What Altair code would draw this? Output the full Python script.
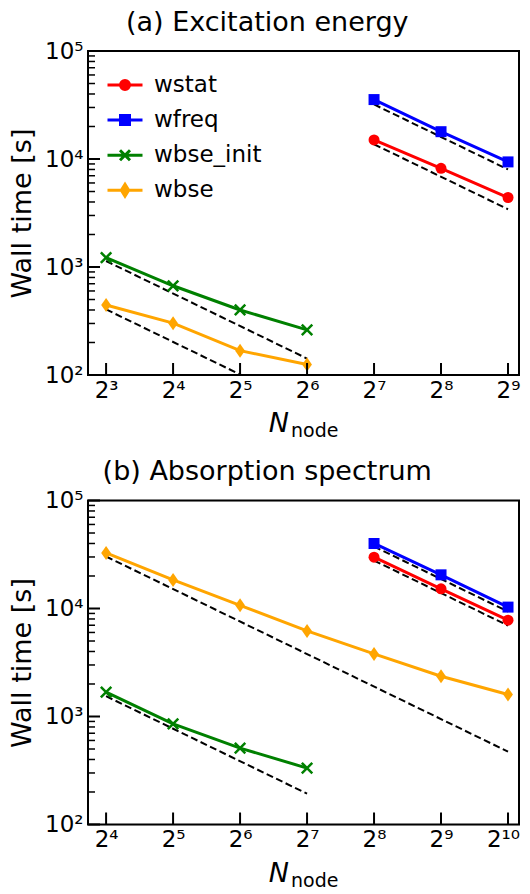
import altair as alt
import pandas as pd

FONT = "DejaVu Sans"

# ---------------- data ----------------
series = ["wstat", "wfreq", "wbse_init", "wbse"]
colors = ["#ff0000", "#0000ff", "#008000", "#ffa500"]

# panel (a) Excitation energy
a_n_w = [128, 256, 512]
a_wstat = [15000, 8200, 4400]
a_wfreq = [35500, 17900, 9400]
a_n_b = [8, 16, 32, 64]
a_wbse_init = [1220, 670, 400, 262]
a_wbse = [445, 302, 168, 125]
# ideal-scaling (dashed) end points
a_ideal_n_w = [128, 512]
a_ideal_wstat = [13700, 3425]
a_ideal_wfreq = [32000, 8000]
a_ideal_n_b = [8, 64]
a_ideal_wbse_init = [1137, 142]
a_ideal_wbse = [405, 50.6]

# panel (b) Absorption spectrum
b_n_w = [256, 512, 1024]
b_wstat = [29900, 15200, 7800]
b_wfreq = [40000, 20500, 10300]
b_n_init = [16, 32, 64, 128]
b_wbse_init = [1680, 855, 510, 333]
b_n_bse = [16, 32, 64, 128, 256, 512, 1024]
b_wbse = [32700, 18400, 10700, 6200, 3800, 2360, 1600]
b_ideal_n_w = [256, 1024]
b_ideal_wstat = [27800, 6950]
b_ideal_wfreq = [37500, 9375]
b_ideal_n_init = [16, 128]
b_ideal_wbse_init = [1542, 193]
b_ideal_n_bse = [16, 1024]
b_ideal_wbse = [30300, 473]

# tick values / labels
a_xticks = [8, 16, 32, 64, 128, 256, 512]
a_xlabels = ["2³", "2⁴", "2⁵", "2⁶", "2⁷", "2⁸", "2⁹"]
b_xticks = [16, 32, 64, 128, 256, 512, 1024]
b_xlabels = ["2⁴", "2⁵", "2⁶", "2⁷", "2⁸", "2⁹", "2¹⁰"]
yticks = [100, 1000, 10000, 100000]
ylabels = ["10²", "10³", "10⁴", "10⁵"]
yminor = [m * d for d in [100, 1000, 10000] for m in range(2, 10)]

# ---------------- styling ----------------
W, H = 431, 324
MARGIN_L, MARGIN_R = 0.27, 0.164  # in octaves

marker_shape = ["circle", "square", "M-1,-1L1,1M-1,1L1,-1", "M0,-1L0.7,0L0,1L-0.7,0Z"]
marker_size = [121, 121, 110, 196]
marker_filled = [True, True, False, True]

legend_shape = [
    "M-1,0L1,0M0.257,0A0.257,0.257,0,1,1,-0.257,0A0.257,0.257,0,1,1,0.257,0Z",
    "M-1,0L1,0M-0.257,-0.257L0.257,-0.257L0.257,0.257L-0.257,0.257Z",
    "M-1,0L1,0M-0.286,-0.286L0.286,0.286M-0.286,0.286L0.286,-0.286",
    "M-1,0L1,0M0,-0.34L0.21,0L0,0.34L-0.21,0Z",
]


def long_df(pairs):
    rows = []
    for name, ns, ts in pairs:
        for n, t in zip(ns, ts):
            rows.append({"series": name, "n": n, "t": t})
    return pd.DataFrame(rows)


def label_expr(vals, labels):
    expr = "''"
    for v, l in reversed(list(zip(vals, labels))):
        expr = f"datum.value == {v} ? '{l}' : ({expr})"
    return expr


def panel(data_df, ideal_df, xticks, xlabels, title, with_legend, title_offset):
    xdom = [xticks[0] / 2 ** MARGIN_L, xticks[-1] * 2 ** MARGIN_R]
    xs = alt.Scale(type="log", base=2, domain=xdom, nice=False)
    ys = alt.Scale(type="log", domain=[100, 100000], nice=False)
    x_enc = alt.X(
        "n:Q",
        scale=xs,
        axis=alt.Axis(
            values=xticks,
            labelExpr=label_expr(xticks, xlabels),
            ticks=False,
            domain=False,
            grid=False,
            labelFont=FONT,
            labelFontSize=23,
            labelColor="black",
            labelPadding=4,
            labelBaseline="top",
            labelFlush=False,
            labelOverlap=False,
            labelOffset={"condition": {"test": "datum.value == 1024", "value": -5}, "value": 0},
            title=None,
        ),
    )
    y_enc = alt.Y(
        "t:Q",
        scale=ys,
        axis=alt.Axis(
            values=yticks,
            labelExpr=label_expr(yticks, ylabels),
            ticks=False,
            domain=False,
            grid=False,
            labelFont=FONT,
            labelFontSize=23,
            labelColor="black",
            labelPadding=5,
            labelFlush=False,
            labelOverlap=False,
            title="Wall time [s]",
            titleFont=FONT,
            titleFontSize=27,
            titleFontWeight="normal",
            titleColor="black",
            titlePadding=8,
        ),
    )

    layers = []
    # dashed ideal scaling lines
    layers.append(
        alt.Chart(ideal_df)
        .mark_line(color="black", strokeWidth=2, strokeDash=[7, 3.5], clip=True)
        .encode(x=x_enc, y=y_enc, detail="series:N")
    )
    for i, name in enumerate(series):
        sub = data_df[data_df["series"] == name]
        if sub.empty:
            continue
        layers.append(
            alt.Chart(sub)
            .mark_line(color=colors[i], strokeWidth=3, clip=True)
            .encode(x=x_enc, y=y_enc)
        )
        layers.append(
            alt.Chart(sub)
            .mark_point(
                shape=marker_shape[i],
                size=marker_size[i],
                filled=marker_filled[i],
                color=colors[i],
                strokeWidth=2.5,
                opacity=1,
            )
            .encode(x=x_enc, y=y_enc)
        )

    one = alt.Data(values=[{}])
    # frame
    layers.append(
        alt.Chart(one)
        .mark_rect(filled=False, stroke="black", strokeWidth=2, fill=None)
        .encode(x=alt.value(0), x2=alt.value(W), y=alt.value(0), y2=alt.value(H))
    )
    # inward ticks
    ymaj = pd.DataFrame({"t": yticks})
    ymin = pd.DataFrame({"t": yminor})
    xmaj = pd.DataFrame({"n": xticks})
    layers.append(
        alt.Chart(ymaj).mark_rule(color="black", strokeWidth=2).encode(
            y=y_enc, x=alt.value(0), x2=alt.value(12)
        )
    )
    layers.append(
        alt.Chart(ymin).mark_rule(color="black", strokeWidth=1.5).encode(
            y=y_enc, x=alt.value(0), x2=alt.value(7)
        )
    )
    layers.append(
        alt.Chart(xmaj).mark_rule(color="black", strokeWidth=2).encode(
            x=x_enc, y=alt.value(H), y2=alt.value(H - 12)
        )
    )

    # x-axis title  N_node
    layers.append(
        alt.Chart(one)
        .mark_text(text="N", font=FONT, fontSize=27, fontStyle="italic",
                   align="right", baseline="alphabetic", color="black")
        .encode(x=alt.value(201), y=alt.value(H + 57))
    )
    layers.append(
        alt.Chart(one)
        .mark_text(text="node", font=FONT, fontSize=19,
                   align="left", baseline="alphabetic", color="black")
        .encode(x=alt.value(203), y=alt.value(H + 62))
    )

    if with_legend:
        leg = alt.Legend(
            title=None,
            orient="none",
            legendX=18,
            legendY=15,
            symbolSize=1225,
            symbolStrokeWidth=3,
            labelFont=FONT,
            labelFontSize=23,
            labelColor="black",
            labelOffset=10,
            rowPadding=4.1,
            padding=0,
        )
        ldf = pd.DataFrame({"series": series})
        layers.append(
            alt.Chart(ldf)
            .transform_filter("false")
            .mark_point(filled=True, strokeWidth=3, opacity=1)
            .encode(
                fill=alt.Fill("series:N", scale=alt.Scale(domain=series, range=colors), legend=leg),
                stroke=alt.Stroke("series:N", scale=alt.Scale(domain=series, range=colors), legend=leg),
                shape=alt.Shape("series:N", scale=alt.Scale(domain=series, range=legend_shape), legend=leg),
            )
        )

    return alt.layer(*layers).properties(
        width=W,
        height=H,
        title=alt.TitleParams(
            title, font=FONT, fontSize=27, fontWeight="normal", color="black",
            anchor="middle", frame="bounds", offset=title_offset, dx=3,
        ),
    )


a_data = long_df([
    ("wstat", a_n_w, a_wstat),
    ("wfreq", a_n_w, a_wfreq),
    ("wbse_init", a_n_b, a_wbse_init),
    ("wbse", a_n_b, a_wbse),
])
a_ideal = long_df([
    ("wstat", a_ideal_n_w, a_ideal_wstat),
    ("wfreq", a_ideal_n_w, a_ideal_wfreq),
    ("wbse_init", a_ideal_n_b, a_ideal_wbse_init),
    ("wbse", a_ideal_n_b, a_ideal_wbse),
])
b_data = long_df([
    ("wstat", b_n_w, b_wstat),
    ("wfreq", b_n_w, b_wfreq),
    ("wbse_init", b_n_init, b_wbse_init),
    ("wbse", b_n_bse, b_wbse),
])
b_ideal = long_df([
    ("wstat", b_ideal_n_w, b_ideal_wstat),
    ("wfreq", b_ideal_n_w, b_ideal_wfreq),
    ("wbse_init", b_ideal_n_init, b_ideal_wbse_init),
    ("wbse", b_ideal_n_bse, b_ideal_wbse),
])

pa = panel(a_data, a_ideal, a_xticks, a_xlabels, "(a) Excitation energy", True, 3.5)
pb = panel(b_data, b_ideal, b_xticks, b_xlabels, "(b) Absorption spectrum", False, 4)

chart = (
    alt.vconcat(pa, pb, spacing=14.5)
    .resolve_scale(fill="independent", stroke="independent", shape="independent")
    .properties(padding={"left": 0, "top": 0, "right": 0, "bottom": 0})
    .configure_view(strokeWidth=0)
    .configure(background="white")
)

chart.save("out.html", embed_options={"renderer": "svg", "actions": False})
